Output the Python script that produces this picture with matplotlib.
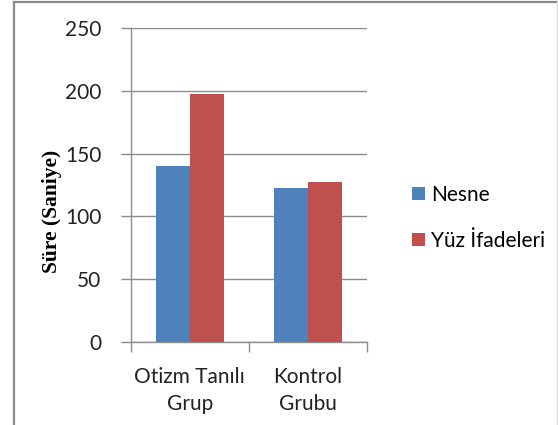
import matplotlib
matplotlib.use("Agg")
import matplotlib.pyplot as plt
from matplotlib.lines import Line2D
import numpy as np

categories = ["Otizm Tanılı\nGrup", "Kontrol\nGrubu"]
series_names = ["Nesne", "Yüz İfadeleri"]
nesne = [140, 122.5]
yuz = [197.5, 127.5]
yticks = [0, 50, 100, 150, 200, 250]
ylabel = "Süre (Saniye)"

colors = ["#4F81BD", "#C0504D"]
grid_c = "#8C8C8C"

fig = plt.figure(figsize=(5.58, 4.25), dpi=100)
ax = fig.add_axes([0.2342, 0.196, 0.4241, 0.738])

x = np.arange(len(categories))
w = 0.2875
ax.bar(x - w / 2, nesne, w, color=colors[0], label=series_names[0], zorder=3)
ax.bar(x + w / 2, yuz, w, color=colors[1], label=series_names[1], zorder=3)

ax.set_xlim(-0.5, len(categories) - 0.5)
ax.set_ylim(0, 250)
ax.yaxis.grid(True, color=grid_c, linewidth=1.0, zorder=0)
ax.set_axisbelow(True)

font = "Lato"
fs = 15
ax.set_yticks(yticks)
ax.set_yticklabels([str(v) for v in yticks], fontsize=fs, fontfamily=font, color="#222222")
ax.tick_params(axis="y", length=7, color=grid_c, width=1.0, pad=14)

ax.set_xticks(x)
ax.set_xticklabels(categories, fontsize=fs, fontfamily=font, color="#222222", linespacing=1.45)
ax.tick_params(axis="x", which="major", length=0, pad=18)
ax.set_xticks(np.arange(-0.5, len(categories) + 0.5, 1), minor=True)
ax.tick_params(axis="x", which="minor", length=7, color=grid_c, width=1.0)

for s in ["top", "right"]:
    ax.spines[s].set_visible(False)
for s in ["left", "bottom"]:
    ax.spines[s].set_color(grid_c)
    ax.spines[s].set_linewidth(1.0)

ax.set_ylabel(ylabel, fontsize=15.5, fontfamily="Liberation Serif", fontweight="bold")
ax.yaxis.set_label_coords(-0.29, 0.415)

leg = ax.legend(loc="center left", bbox_to_anchor=(1.11, 0.395), frameon=False,
                prop={"family": font, "size": fs}, handlelength=0.62, handleheight=0.62,
                handletextpad=0.3, labelspacing=1.25)

# figure border
fig.add_artist(Line2D([13.5 / 558, 13.5 / 558], [0, 1 - 2 / 425], transform=fig.transFigure,
                      color="#8A8A8A", linewidth=1.6))
fig.add_artist(Line2D([13.5 / 558, 1], [1 - 2 / 425, 1 - 2 / 425], transform=fig.transFigure,
                      color="#8A8A8A", linewidth=1.6))
fig.add_artist(Line2D([556.5 / 558, 556.5 / 558], [0, 1], transform=fig.transFigure,
                      color="#DDDDDD", linewidth=1.0))

fig.savefig("out.png", dpi=100)
